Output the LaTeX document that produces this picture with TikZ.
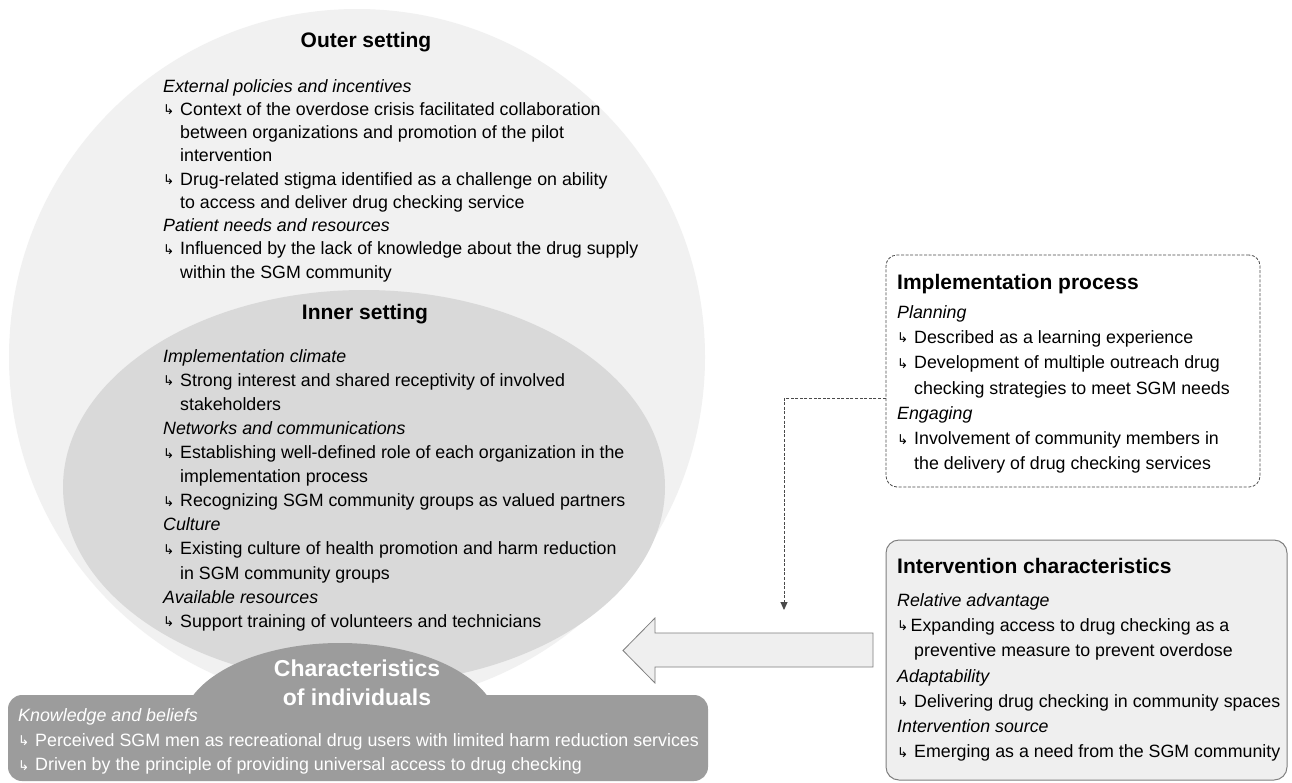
\documentclass[tikz,border=0pt]{standalone}
\usepackage{fontspec}
\setmainfont{Liberation Sans}
\newfontfamily\symf{DejaVu Sans}
\usetikzlibrary{arrows.meta}
\definecolor{outerc}{HTML}{F1F1F1}
\definecolor{innerc}{HTML}{D9D9D9}
\definecolor{charc}{HTML}{9C9C9C}
\definecolor{intc}{HTML}{EFEFEF}
\definecolor{edgec}{HTML}{7F7F7F}
\definecolor{dashc}{HTML}{4A4A4A}
\newcommand{\glyph}{{\symf\fontsize{13.5}{13.5}\selectfont\raisebox{0.5pt}{↳}}}
\newcommand{\ar}{\makebox[17pt][l]{\glyph}}
\newcommand{\arn}{\makebox[13.5pt][l]{\glyph}}
\newcommand{\ind}{\hspace*{17pt}}
\tikzset{
  body/.style={anchor=north west, inner sep=0pt, align=left, font=\fontsize{17.8}{23.25}\selectfont},
  bodyin/.style={body, font=\fontsize{17.8}{24.1}\selectfont},
  bodybox/.style={body, font=\fontsize{17.8}{25.3}\selectfont},
  bodychar/.style={body, text=white, font=\fontsize{17.85}{24.5}\selectfont},
  ttl/.style={inner sep=0pt, font=\fontsize{21}{25}\bfseries\selectfont},
  ttlw/.style={ttl, anchor=west},
  chartitle/.style={inner sep=0pt, align=center, text=white, font=\fontsize{23}{29}\bfseries\selectfont},
  dashbox/.style={draw=dashc, line width=0.8pt, dash pattern=on 3pt off 1.6pt, rounded corners=11pt, fill=white, minimum width=374pt, minimum height=232pt, inner sep=0pt},
  intbox/.style={draw=edgec, line width=1pt, fill=intc, rounded corners=13pt, minimum width=401pt, minimum height=240pt, inner sep=0pt},
  conn/.style={draw=dashc, line width=0.9pt, dash pattern=on 3pt off 1.6pt, -{Triangle[length=8pt,width=7pt]}},
  bigarrow/.style={draw=edgec, line width=0.8pt, fill=intc},
}
\begin{document}
\begin{tikzpicture}[x=1pt,y=-1pt]
\useasboundingbox (0,0) rectangle (1292,782);
\fill[white] (0,0) rectangle (1292,782);
% circles
\fill[outerc] (357,357) circle[radius=348pt];
\fill[innerc] (364,487) ellipse[x radius=301pt, y radius=197pt];
% characteristics of individuals
\begin{scope}
\clip (0,0) rectangle (1292,700);
\fill[charc] (340,726) ellipse[x radius=158pt, y radius=83pt];
\end{scope}
\fill[charc, rounded corners=14pt] (8,695) rectangle (708,781);

% outer setting
\node[ttl] (outt) at (366,42) {Outer setting};
\node[body] (outb) at (163,79) {%
\textit{External policies and incentives}\\
\ar Context of the overdose crisis facilitated collaboration\\
\ind between organizations and promotion of the pilot\\
\ind intervention\\
\ar Drug-related stigma identified as a challenge on ability\\
\ind to access and deliver drug checking service\\
\textit{Patient needs and resources}\\
\ar Influenced by the lack of knowledge about the drug supply\\
\ind within the SGM community};

% inner setting
\node[ttl] (innt) at (365,314) {Inner setting};
\node[bodyin] (innb) at (163,349) {%
\textit{Implementation climate}\\
\ar Strong interest and shared receptivity of involved\\
\ind stakeholders\\
\textit{Networks and communications}\\
\ar Establishing well-defined role of each organization in the\\
\ind implementation process\\
\ar Recognizing SGM community groups as valued partners\\
\textit{Culture}\\
\ar Existing culture of health promotion and harm reduction\\
\ind in SGM community groups\\
\textit{Available resources}\\
\ar Support training of volunteers and technicians};

% characteristics
\node[chartitle] (chart) at (357,683) {Characteristics\\of individuals};
\node[bodychar] (charb) at (18,708.5) {%
\textit{Knowledge and beliefs}\\
\ar Perceived SGM men as recreational drug users with limited harm reduction services\\
\ar Driven by the principle of providing universal access to drug checking};

% implementation process
\node[dashbox] (imp) at (1073,371) {};
\node[ttlw] (impt) at (897,284) {Implementation process};
\node[bodybox] (impb) at (897,305) {%
\textit{Planning}\\
\ar Described as a learning experience\\
\ar Development of multiple outreach drug\\
\ind checking strategies to meet SGM needs\\
\textit{Engaging}\\
\ar Involvement of community members in\\
\ind the delivery of drug checking services};

% intervention characteristics
\node[intbox] (int) at (1086.5,660) {};
\node[ttlw] (intt) at (897,566) {Intervention characteristics};
\node[bodybox] (intb) at (897,593) {%
\textit{Relative advantage}\\
\arn Expanding access to drug checking as a\\
\ind preventive measure to prevent overdose\\
\textit{Adaptability}\\
\ar Delivering drug checking in community spaces\\
\textit{Intervention source}\\
\ar Emerging as a need from the SGM community};

% big arrow
\draw[bigarrow] (873,633) -- (655,633) -- (655,618) -- (623,650.5) -- (655,683) -- (655,667) -- (873,667) -- cycle;

% dashed connector
\coordinate (cend) at (784,610);
\draw[conn] ([yshift=-27pt]imp.west) -| (cend);
\end{tikzpicture}
\end{document}
